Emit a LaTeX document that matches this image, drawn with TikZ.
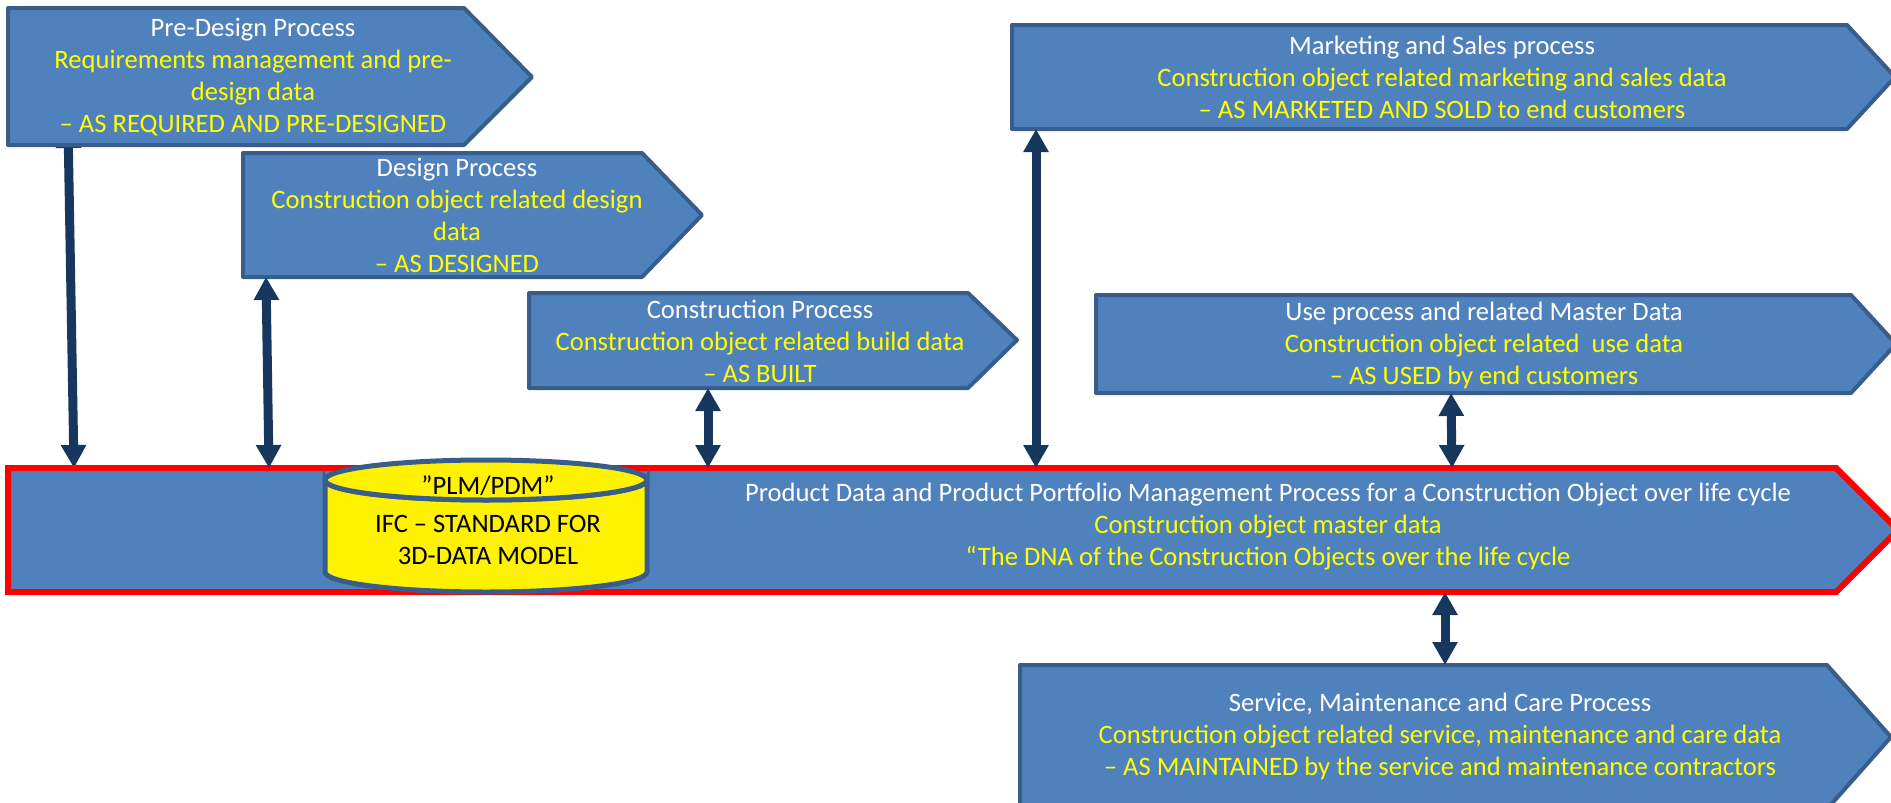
\documentclass[tikz,border=0pt]{standalone}
\usepackage{fontspec}
\setmainfont{Carlito}
\usepackage{tikz}
\usetikzlibrary{arrows.meta}
\usetikzlibrary{backgrounds}
\definecolor{boxblue}{RGB}{79,129,189}
\definecolor{boxline}{RGB}{56,93,138}
\definecolor{linkblue}{RGB}{23,55,94}
\definecolor{txtyellow}{RGB}{255,255,0}
\tikzset{>={Triangle[width=12pt,length=11.5pt]},
  procbox/.style={fill=boxblue,draw=boxline,line width=2pt,line join=round},
  mainbox/.style={fill=boxblue,draw=red,line width=3pt,line join=miter},
  dbbox/.style={fill=yellow,draw=boxline,line width=2.5pt},
  proctext/.style={text=txtyellow,align=center,inner sep=0pt,
    font=\fontsize{13.3}{16}\selectfont},
  dbtext/.style={text=black,align=center,inner sep=0pt,
    font=\fontsize{13.3}{16}\selectfont},
  link/.style={draw=linkblue,line width=4.5pt,<->}}
\newcommand{\proctitle}[1]{\textcolor{white}{#1}}

\begin{document}
\begin{tikzpicture}[x=0.5pt,y=-0.5pt]

  \useasboundingbox (0,0) rectangle (1891,803);
  \clip (0,0) rectangle (1891,803);

  \draw [procbox] (8,8) -- (464,8) -- (532,77) -- (464,145) -- (68,145) coordinate (pre-s) -- (8,145) -- cycle;
  \node [proctext] (predesign) at (253,77) {\proctitle{Pre-Design Process}\\Requirements management and pre-\\design data\\– AS REQUIRED AND PRE-DESIGNED};

  \draw [procbox] (243,153) -- (642,153) -- (702,215) -- (642,277) -- (266,277) coordinate (des-s) -- (243,277) -- cycle;
  \node [proctext] (design) at (457,215) {\proctitle{Design Process}\\Construction object related design\\data\\– AS DESIGNED};

  \draw [procbox] (529,293) -- (968,293) -- (1017,340) -- (968,388) -- (708,388) coordinate (con-s) -- (529,388) -- cycle;
  \node [proctext] (construction) at (760,341) {\proctitle{Construction Process}\\Construction object related build data\\– AS BUILT};

  \draw [procbox] (1012,25) -- (1847,25) -- (1895,77) -- (1847,129) -- (1036,129) coordinate (mkt-s) -- (1012,129) -- cycle;
  \node [proctext] (marketing) at (1442,77) {\proctitle{Marketing and Sales process}\\Construction object related marketing and sales data\\– AS MARKETED AND SOLD to end customers};

  \draw [procbox] (1096,295) -- (1851,295) -- (1896,344) -- (1851,393) -- (1451,393) coordinate (use-s) -- (1096,393) -- cycle;
  \node [proctext] (use) at (1484,345) {\proctitle{Use process and related Master Data}\\Construction object related~ use data\\– AS USED by end customers};

  \draw [mainbox] (8,468) -- (74,468) coordinate (plm-n1) -- (269,468) coordinate (plm-n2) -- (708,468) coordinate (plm-n3)
    -- (1036,468) coordinate (plm-n4) -- (1452,468) coordinate (plm-n5) -- (1836,468) -- (1898,530) -- (1836,592)
    -- (1445,592) coordinate (plm-s) -- (8,592) -- cycle;
  \node [proctext] (plm) at (1268,527) {\proctitle{Product Data and Product Portfolio Management Process for a Construction Object over life cycle}\\Construction object master data\\“The DNA of the Construction Objects over the life cycle};

  \draw [dbbox] (325,480) -- (325,572) arc [start angle=180,end angle=0,x radius=161,y radius=20]
    -- (647,480) arc [start angle=0,end angle=180,x radius=161,y radius=20] -- cycle;
  \draw [dbbox] (486,480) ellipse [x radius=161,y radius=20];
  \node [dbtext] (plmdb) at (488,520) {”PLM/PDM”\\[3pt]IFC – STANDARD FOR\\3D-DATA MODEL};

  \draw [procbox] (1020,665) -- (1445,665) coordinate (srv-n) -- (1827,665) -- (1891,737) -- (1827,809) -- (1020,809) -- cycle;
  \node [proctext] (service) at (1440,736) {\proctitle{Service, Maintenance and Care Process}\\Construction object related service, maintenance and care data\\– AS MAINTAINED by the service and maintenance contractors};

  \begin{scope}[on background layer]
    \draw [link] ([yshift=10pt]pre-s) -- (plm-n1);
  \end{scope}
  \draw [link] (des-s) -- (plm-n2);
  \draw [link] (con-s) -- (plm-n3);
  \draw [link] (mkt-s) -- (plm-n4);
  \draw [link] (use-s) -- (plm-n5);
  \draw [link] (plm-s) -- (srv-n);

\end{tikzpicture}
\end{document}
